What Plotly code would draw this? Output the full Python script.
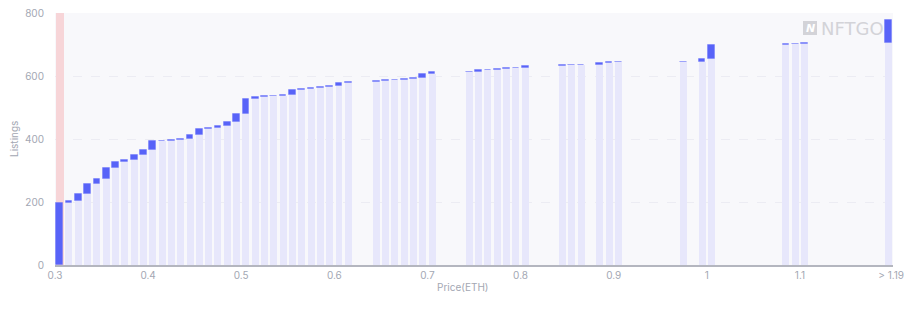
import plotly.graph_objects as go

# ---- data ----
price_labels = [
    "0.30", "0.31", "0.32", "0.33", "0.34", "0.35", "0.36", "0.37", "0.38", "0.39",
    "0.40", "0.41", "0.42", "0.43", "0.44", "0.45", "0.46", "0.47", "0.48", "0.49",
    "0.50", "0.51", "0.52", "0.53", "0.54", "0.55", "0.56", "0.57", "0.58", "0.59",
    "0.60", "0.61",
    "0.64", "0.65", "0.66", "0.67", "0.68", "0.69", "0.70",
    "0.74", "0.75", "0.76", "0.77", "0.78", "0.79", "0.80",
    "0.84", "0.85", "0.86",
    "0.88", "0.89", "0.90",
    "0.97",
    "0.99", "1.00",
    "1.08", "1.09", "1.10",
    "> 1.19",
]
cumulative_listings = [
    196, 202, 226, 257, 273, 308, 326, 334, 348, 365,
    394, 395, 397, 399, 414, 432, 436, 442, 454, 480,
    528, 532, 536, 538, 540, 555, 558, 561, 565, 568,
    579, 582,
    583, 586, 588, 591, 593, 607, 612,
    614, 618, 620, 623, 624, 626, 632,
    634, 635, 636,
    640, 643, 643,
    645,
    653, 699,
    702, 703, 705,
    779,
]
highlight_label = "0.30"
tick_vals = [0.3, 0.4, 0.5, 0.6, 0.7, 0.8, 0.9, 1.0, 1.1, 1.198]
tick_text = ["0.3", "0.4", "0.5", "0.6", "0.7", "0.8", "0.9", "1", "1.1", "> 1.19"]


def to_num(lbl):
    return 1.19 if lbl.startswith(">") else float(lbl)


bin_w = 0.01
x_center = [to_num(l) + bin_w / 2 for l in price_labels]
base = [0] + cumulative_listings[:-1]
inc = [c - b for c, b in zip(cumulative_listings, base)]

LIGHT = "#e7e7fb"
BLUE = "#5863f8"
PINK = "#f7d5d8"
GREY = "#a3a7b3"
FONT = "Inter"

fig = go.Figure()

# highlight column
hx = to_num(highlight_label) + bin_w / 2
fig.add_trace(go.Bar(x=[hx], y=[800], width=0.0085, marker=dict(color=PINK, line=dict(width=0)),
                     hoverinfo="skip", showlegend=False))

# stacked: base (light) + increment (blue)
fig.add_trace(go.Bar(x=x_center, y=base, width=0.0075,
                     marker=dict(color=LIGHT, line=dict(width=0)), showlegend=False))
fig.add_trace(go.Bar(x=x_center, y=inc, base=base, width=0.0072,
                     marker=dict(color=BLUE, line=dict(width=1, color="rgba(88,99,248,0.35)")),
                     showlegend=False))

fig.update_layout(
    width=922, height=309,
    margin=dict(l=55, r=29, t=13, b=44, autoexpand=False),
    paper_bgcolor="white",
    plot_bgcolor="#f8f8fb",
    barmode="overlay",
    bargap=0,
    font=dict(family=FONT, size=10, color=GREY),
    xaxis=dict(
        range=[0.30, 1.20], tickvals=tick_vals, ticktext=tick_text, automargin=False,
        showgrid=False, zeroline=False, showline=True, linecolor="#b4b6bf", linewidth=1.5,
        ticks="", tickfont=dict(size=10, color=GREY), fixedrange=True,
    ),
    yaxis=dict(
        range=[0, 800], tickvals=[0, 200, 400, 600, 800], automargin=False,
        showgrid=True, gridcolor="#ececf3", griddash="dash", gridwidth=1,
        zeroline=False, showline=False, ticks="", ticklabelstandoff=10,
        tickfont=dict(size=10, color=GREY), fixedrange=True,
    ),
    annotations=[
        dict(text="Listings", xref="paper", yref="paper", x=0, y=0.5, xshift=-49,
             showarrow=False, textangle=-90, font=dict(size=10, color=GREY)),
        dict(text="Price(ETH)", xref="paper", yref="paper", x=0.5, y=0, yshift=-30, xshift=-12,
             showarrow=False, font=dict(size=10, color=GREY)),
        dict(text="NFTGO", xref="paper", yref="paper", x=1, y=1, xanchor="right", yanchor="top",
             xshift=-7, yshift=-3, showarrow=False,
             font=dict(family="DejaVu Sans", size=18, color="#d3d3d8")),
        dict(text="<b><i>N</i></b>", xref="paper", yref="paper", x=1, y=1, xanchor="center", yanchor="middle",
             xshift=-83, yshift=-15, showarrow=False,
             font=dict(family="DejaVu Sans", size=11, color="white")),
    ],
    shapes=[
        dict(type="rect", xref="paper", yref="paper",
             xsizemode="pixel", ysizemode="pixel", xanchor=1.0, yanchor=1.0,
             x0=-90, x1=-76, y0=-8, y1=-22, fillcolor="#d3d3d8", line=dict(width=0),
             layer="above"),
    ],
)

fig.write_html("out.html")
